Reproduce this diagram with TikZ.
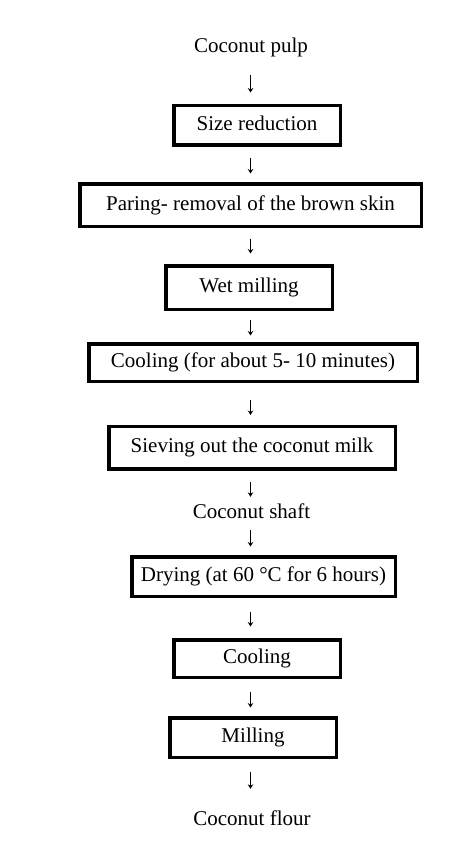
\documentclass[tikz,border=0pt]{standalone}
\usepackage{fontspec}
\setmainfont{Liberation Serif}
\usetikzlibrary{arrows.meta}

\begin{document}
\begin{tikzpicture}[x=1pt,y=-1pt,
        txt/.style={font=\fontsize{21}{25}\selectfont, inner sep=0pt, text height=15pt, text depth=5pt},
        box/.style={txt, draw, line width=3.5pt},
        flow/.style={-{Stealth[length=4.5pt,width=5.5pt]}, line width=1.1pt}]
            \fill[white] (0,0) rectangle (474,845);
            \useasboundingbox (0,0) rectangle (474,845);
            \coordinate (c) at (250.5,0);

            \node[txt] (pulp) at (251,47.5) {Coconut pulp};
            \node[box, minimum width=166.5pt, minimum height=39.5pt] (b1) at (257,125.5) {Size reduction};
            \node[box, minimum width=341.5pt, minimum height=42.5pt] (b2) at (250.5,205) {Paring- removal of the brown skin};
            \node[box, minimum width=166.5pt, minimum height=43.5pt] (b3) at (249,287.5) {Wet milling};
            \node[box, minimum width=328.5pt, minimum height=37.5pt] (b4) at (253,362.5) {Cooling (for about 5- 10 minutes)};
            \node[box, minimum width=286.5pt, minimum height=42.5pt] (b5) at (252,447.5) {Sieving out the coconut milk};
            \node[txt] (shaft) at (251.5,513) {Coconut shaft};
            \node[box, minimum width=263.5pt, minimum height=39.5pt] (b6) at (263.5,576.5) {Drying (at 60 °C for 6 hours)};
            \node[box, minimum width=166.5pt, minimum height=37.5pt] (b7) at (257,658.5) {Cooling};
            \node[box, minimum width=166.5pt, minimum height=39.5pt] (b8) at (253,737.5) {Milling};
            \node[txt] (flour) at (252,820) {Coconut flour};

            \draw[flow, shorten <=17.5pt, shorten >=11.5pt] (pulp.south -| c) -- (b1.north -| c);
            \draw[flow, shorten <=11.5pt, shorten >=8.5pt] (b1.south -| c) -- (b2.north -| c);
            \draw[flow, shorten <=10.5pt, shorten >=10.5pt] (b2.south -| c) -- (b3.north -| c);
            \draw[flow, shorten <=8.5pt, shorten >=6.5pt] (b3.south -| c) -- (b4.north -| c);
            \draw[flow, shorten <=16.5pt, shorten >=9.5pt] (b4.south -| c) -- (b5.north -| c);
            \draw[flow, shorten <=11.5pt, shorten >=6pt] (b5.south -| c) -- (shaft.north -| c);
            \draw[flow, shorten <=7pt, shorten >=8.5pt] (shaft.south -| c) -- (b6.north -| c);
            \draw[flow, shorten <=13.5pt, shorten >=11.5pt] (b6.south -| c) -- (b7.north -| c);
            \draw[flow, shorten <=12.5pt, shorten >=8.5pt] (b7.south -| c) -- (b8.north -| c);
            \draw[flow, shorten <=12.5pt, shorten >=21pt] (b8.south -| c) -- (flour.north -| c);
        \end{tikzpicture}
\end{document}
